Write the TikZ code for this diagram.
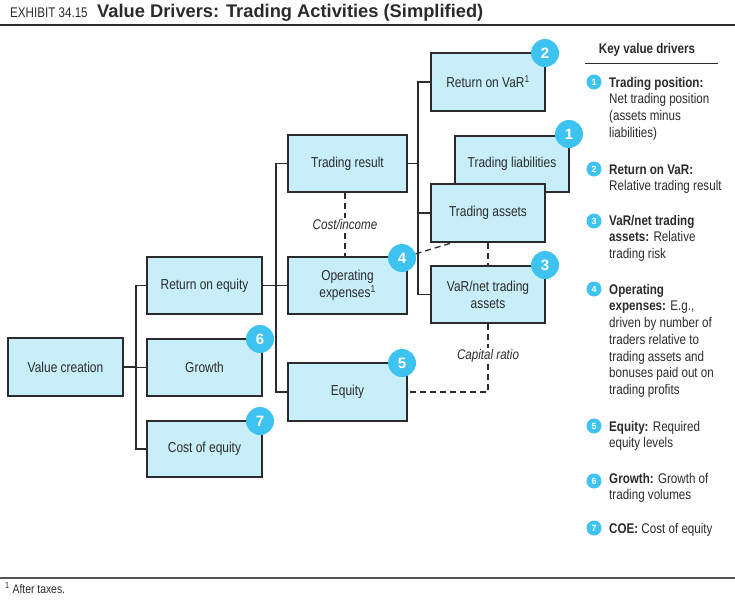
\documentclass[tikz,border=0pt]{standalone}
\usepackage{fontspec}
\setmainfont{Liberation Sans}[FakeStretch=0.83]
\newfontfamily\widefont{Liberation Sans}
\usetikzlibrary{calc}
\definecolor{boxfill}{HTML}{C8EEFA}
\definecolor{badgec}{HTML}{3EC3F0}
\definecolor{ink}{HTML}{2B2B2B}
\begin{document}
\begin{tikzpicture}[x=1pt,y=-1pt,
  box/.style={draw=ink, line width=1.4pt, fill=boxfill, inner sep=0, align=center, font=\fontsize{14.4}{17}\selectfont, text=ink},
  badge/.style={circle, fill=badgec, minimum size=28pt, inner sep=0, text=white, font=\widefont\bfseries\fontsize{15}{15}\selectfont},
  sbadge/.style={circle, fill=badgec, minimum size=15pt, inner sep=0, text=white, font=\widefont\bfseries\fontsize{9}{9}\selectfont},
  conn/.style={draw=ink, line width=1.3pt},
  dsh/.style={draw=ink, line width=1.3pt, dash pattern=on 6pt off 4pt},
  lbl/.style={font=\itshape\fontsize{14}{14}\selectfont, fill=white, inner sep=1.5pt, text=ink},
  legend/.style={anchor=north west, inner sep=0, align=left, font=\fontsize{14}{16.7}\selectfont, text=ink}
]
\useasboundingbox (0,0) rectangle (735,600);
% title
\node[anchor=base west, inner sep=0, font=\fontsize{14}{14}\selectfont, text=ink] (ex) at (10,17) {EXHIBIT 34.15};
\node[anchor=base west, inner sep=0, font=\widefont\bfseries\fontsize{18.3}{18}\selectfont, text=ink] (ti) at (97,17) {Value Drivers: Trading Activities (Simplified)};
\draw[line width=2pt, ink] (0,25) -- (735,25);
% boxes
\node[box, minimum width=115pt, minimum height=58pt] (vc) at (65.5,367) {Value creation};
\node[box, minimum width=115pt, minimum height=57pt] (roe) at (204.5,285.5) {Return on equity};
\node[box, minimum width=115pt, minimum height=57pt] (gr) at (204.5,367.5) {Growth};
\node[box, minimum width=115pt, minimum height=56pt] (coe) at (204.5,449) {Cost of equity};
\node[box, minimum width=119pt, minimum height=57pt] (tr) at (347.5,163.5) {Trading result};
\node[box, minimum width=119pt, minimum height=57pt] (ox) at (347.5,285.5) {Operating\\expenses\textsuperscript{1}};
\node[box, minimum width=119pt, minimum height=58pt] (eq) at (347.5,392) {Equity};
\node[box, minimum width=114pt, minimum height=58pt] (rv) at (488,82) {Return on VaR\textsuperscript{1}};
\node[box, minimum width=114pt, minimum height=56pt] (tl) at (512,164) {Trading liabilities};
\node[box, minimum width=114pt, minimum height=58pt] (ta) at (488,213) {Trading assets};
\node[box, minimum width=114pt, minimum height=57pt] (vn) at (488,294.5) {VaR/net trading\\assets};
% connectors
\coordinate (j1) at (136,0);
\coordinate (j2) at (276,0);
\coordinate (j3) at (418,0);
\coordinate (jd) at (345,0);
\draw[conn] (vc.east) -- (vc.east -| j1);
\draw[conn] (roe.west) -- (roe.west -| j1) |- (coe.west);
\draw[conn] (gr.west) -- (gr.west -| j1);
\draw[conn] (roe.east) -- (ox.west);
\draw[conn] (tr.west) -- (tr.west -| j2) |- (eq.west);
\draw[conn] (tr.east) -- (tr.east -| j3);
\draw[conn] (rv.west) -- (rv.west -| j3) |- (vn.west);
\draw[conn] (ta.west) -- (ta.west -| j3);
% badges
\node[badge] (b2) at (545,53) {2};
\node[badge] (b1) at (569,134) {1};
\node[badge] (b4) at (402,258) {4};
\node[badge] (b3) at (545,265) {3};
\node[badge] (b5) at (402,363) {5};
\node[badge] (b6) at (260,339) {6};
\node[badge] (b7) at (260,421) {7};
% dashed
\coordinate (tap) at ($(ta.south west)+(22,0)$);
\draw[dsh] (b4) -- (tap);
\draw[dsh] (tr.south -| jd) -- (ox.north -| jd) node[lbl, pos=0.5] (ci) {Cost/income};
\draw[dsh] (ta.south) -- (vn.north);
\draw[dsh] (vn.south) -- (vn.south |- eq.east) -- (eq.east);
\node[lbl] (cr) at (488,356) {Capital ratio};
% legend
\node[anchor=base, inner sep=0, font=\bfseries\fontsize{14}{14}\selectfont, text=ink] (kv) at (647,53) {Key value drivers};
\draw[line width=1pt, ink] (585,63) -- (718,63);
\node[sbadge] (s1) at (594,82) {1};
\node[sbadge] (s2) at (594,169) {2};
\node[sbadge] (s3) at (594,221) {3};
\node[sbadge] (s4) at (594,289) {4};
\node[sbadge] (s5) at (594,426) {5};
\node[sbadge] (s6) at (594,481) {6};
\node[sbadge] (s7) at (594,528) {7};
\node[legend] (t1) at (609,76) {\rule{0pt}{11pt}\textbf{Trading position:}\\Net trading position\\(assets minus\\liabilities)};
\node[legend] (t2) at (609,163) {\rule{0pt}{11pt}\textbf{Return on VaR:}\\Relative trading result};
\node[legend] (t3) at (609,214) {\rule{0pt}{11pt}\textbf{VaR/net trading}\\\textbf{assets:} Relative\\trading risk};
\node[legend] (t4) at (609,283) {\rule{0pt}{11pt}\textbf{Operating}\\\textbf{expenses:} E.g.,\\driven by number of\\traders relative to\\trading assets and\\bonuses paid out on\\trading profits};
\node[legend] (t5) at (609,420) {\rule{0pt}{11pt}\textbf{Equity:} Required\\equity levels};
\node[legend] (t6) at (609,472) {\rule{0pt}{11pt}\textbf{Growth:} Growth of\\trading volumes};
\node[legend] (t7) at (609,522) {\rule{0pt}{11pt}\textbf{COE:} Cost of equity};
% footnote
\draw[line width=1.5pt, ink!80] (0,578) -- (735,578);
\node[anchor=base west, inner sep=0, font=\fontsize{12.5}{12}\selectfont, text=ink] (fn) at (5,593) {\textsuperscript{1} After taxes.};
\end{tikzpicture}
\end{document}
